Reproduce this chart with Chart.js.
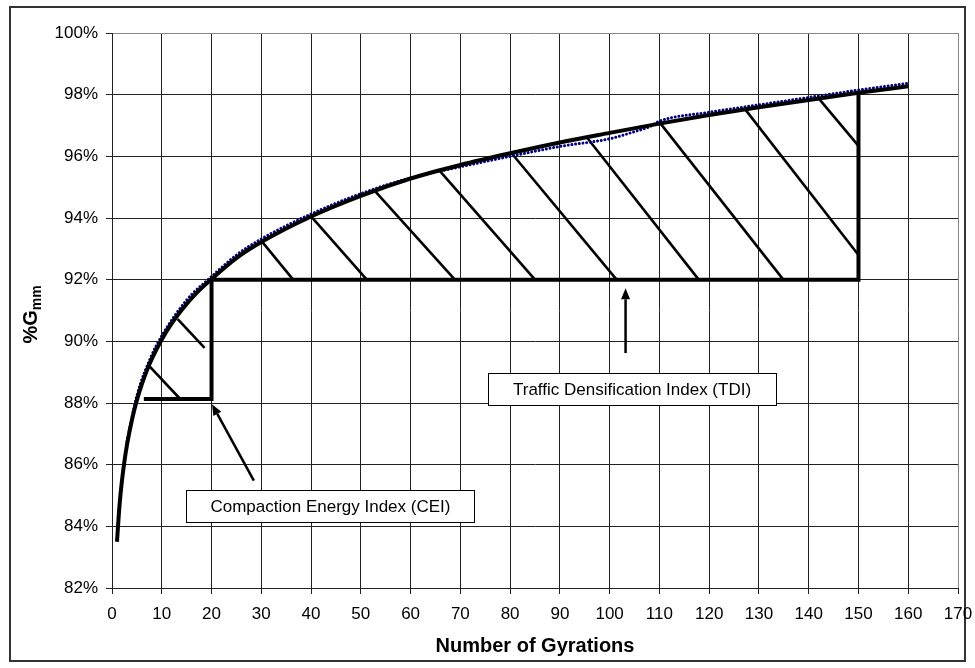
<!DOCTYPE html>
<html>
<head>
<meta charset="utf-8">
<script src="https://cdn.jsdelivr.net/npm/chart.js@4.4.1/dist/chart.umd.min.js"></script>
<style>
	body { margin: 0; background: #fff; }
</style>
</head>
<body>
<canvas id="c" width="975" height="668"></canvas>
<script>
// gyrations vs %Gmm, fitted curve
var fitN   = [1, 1.5, 2, 2.5, 3, 4, 5, 6, 7, 8, 10, 12, 14, 17, 20, 25, 30, 40, 50, 60, 70, 80, 90, 100, 110, 120, 130, 140, 150, 160];
var fitGmm = [83.5, 84.66, 85.48, 86.11, 86.63, 87.45, 88.09, 88.61, 89.05, 89.43, 90.06, 90.58, 91.02, 91.57, 92.02, 92.7, 93.22, 94.05, 94.72, 95.28, 95.72, 96.1, 96.45, 96.76, 97.06, 97.34, 97.59, 97.83, 98.06, 98.27];

// measured densification (dotted)
var measN   = [3, 5, 8, 10, 15, 20, 25, 30, 40, 50, 60, 70, 80, 90, 100, 105, 108, 110, 120, 130, 140, 150, 160];
var measGmm = [86.75, 88.24, 89.56, 90.18, 91.34, 92.1, 92.8, 93.32, 94.13, 94.79, 95.3, 95.66, 96.0, 96.32, 96.57, 96.8, 96.96, 97.14, 97.43, 97.67, 97.91, 98.15, 98.37];

// hatch strokes, [N, %Gmm] from -> to
var ceiHatchFrom = [[7.6, 89.18], [13.2, 90.72]];
var ceiHatchTo   = [[13.7, 88.13], [18.6, 89.79]];
var tdiHatchFrom = [[30.1, 93.24], [40, 94.05], [52.9, 94.86], [65.9, 95.52], [80.3, 96.1], [95.4, 96.62], [110.2, 97.07], [127.2, 97.53], [142, 97.88]];
var tdiHatchTo   = [[36.4, 92], [51.2, 92], [68.9, 92], [85.0, 92], [101.4, 92], [117.9, 92], [134.9, 92], [150, 92.8], [150, 96.34]];

// region outlines
var ceiFrame = [[6.4, 88.13], [20, 88.13], [20, 92]];
var tdiFrame = [[20, 92], [150, 92], [150, 98.06]];

// arrows, tail -> tip
var tdiArrow = [[103.2, 89.62], [103.2, 91.72]];
var ceiArrow = [[28.5, 85.48], [20.1, 87.96]];

// label boxes, centre in data units
var tdiLabel = { text: "Traffic Densification Index (TDI)", x: 104.5, y: 88.46 };
var ceiLabel = { text: "Compaction Energy Index (CEI)", x: 43.9, y: 84.65 };

var xTitle = "Number of Gyrations";
var yTitle = ["%G", "mm"];

var FONT = "'Liberation Sans', Arial, sans-serif";

function toPts(ns, vs) {
	var r = [];
	for(var i = 0; i < ns.length; i++) {
		r.push({ x: ns[i], y: vs[i] });
	}
	return r;
}

function pairPts(list) {
	return list.map(function(p) { return { x: p[0], y: p[1] }; });
}

function segSet(data, width) {
	return {
		data: data,
		showLine: true,
		borderColor: "#000",
		borderWidth: width,
		pointRadius: 0,
		borderCapStyle: "butt",
		borderJoinStyle: "miter",
		order: 3
	};
}

var datasets = [
	{
		data: toPts(fitN, fitGmm),
		showLine: true,
		borderColor: "#000",
		borderWidth: 4,
		pointRadius: 0,
		cubicInterpolationMode: "monotone",
		order: 1
	},
	{
		data: toPts(measN, measGmm),
		showLine: true,
		borderColor: "#000080",
		borderWidth: 3,
		borderDash: [0.01, 3.7],
		borderCapStyle: "round",
		pointRadius: 0,
		cubicInterpolationMode: "monotone",
		order: 2
	},
	segSet(pairPts(ceiFrame), 4),
	segSet(pairPts(tdiFrame), 4)
];

ceiHatchFrom.forEach(function(p, i) {
	datasets.push(segSet(pairPts([p, ceiHatchTo[i]]), 2.6));
});
tdiHatchFrom.forEach(function(p, i) {
	datasets.push(segSet(pairPts([p, tdiHatchTo[i]]), 2.6));
});

function drawArrow(ctx, xs, ys, a) {
	var x0 = xs.getPixelForValue(a[0][0]), y0 = ys.getPixelForValue(a[0][1]);
	var x1 = xs.getPixelForValue(a[1][0]), y1 = ys.getPixelForValue(a[1][1]);
	var ang = Math.atan2(y1 - y0, x1 - x0);
	var len = 11, half = 4.5;
	var bx = x1 - Math.cos(ang) * len, by = y1 - Math.sin(ang) * len;

	ctx.strokeStyle = "#000";
	ctx.lineWidth = 2.5;
	ctx.beginPath();
	ctx.moveTo(x0, y0);
	ctx.lineTo(bx, by);
	ctx.stroke();

	ctx.fillStyle = "#000";
	ctx.beginPath();
	ctx.moveTo(x1, y1);
	ctx.lineTo(bx + Math.sin(ang) * half, by - Math.cos(ang) * half);
	ctx.lineTo(bx - Math.sin(ang) * half, by + Math.cos(ang) * half);
	ctx.closePath();
	ctx.fill();
}

function drawLabel(ctx, xs, ys, lb) {
	var cx = xs.getPixelForValue(lb.x), cy = ys.getPixelForValue(lb.y);
	var w = 288, h = 32;
	var l = Math.round(cx - w / 2) + 0.5, t = Math.round(cy - h / 2) + 0.5;

	ctx.fillStyle = "#fff";
	ctx.fillRect(l, t, w, h);
	ctx.strokeStyle = "#000";
	ctx.lineWidth = 1;
	ctx.strokeRect(l, t, w, h);

	ctx.fillStyle = "#000";
	ctx.font = "17px " + FONT;
	ctx.textAlign = "center";
	ctx.textBaseline = "middle";
	ctx.fillText(lb.text, cx, cy + 1);
}

var deco = {
	id: "deco",
	beforeDraw: function(chart) {
		var ctx = chart.ctx;
		ctx.save();
		ctx.fillStyle = "#fff";
		ctx.fillRect(0, 0, chart.width, chart.height);
		ctx.strokeStyle = "#333";
		ctx.lineWidth = 2;
		ctx.strokeRect(10, 7, 955, 654);
		ctx.restore();
	},
	afterDatasetsDraw: function(chart) {
		var ctx = chart.ctx, xs = chart.scales.x, ys = chart.scales.y;
		ctx.save();
		drawArrow(ctx, xs, ys, tdiArrow);
		drawArrow(ctx, xs, ys, ceiArrow);
		drawLabel(ctx, xs, ys, tdiLabel);
		drawLabel(ctx, xs, ys, ceiLabel);
		ctx.restore();
	},
	afterDraw: function(chart) {
		var ctx = chart.ctx, a = chart.chartArea;
		ctx.save();
		ctx.fillStyle = "#000";

		// x title
		ctx.font = "bold 20px " + FONT;
		ctx.textAlign = "center";
		ctx.textBaseline = "alphabetic";
		ctx.fillText(xTitle, (a.left + a.right) / 2, 652);

		// y title with subscript
		ctx.translate(37, (a.top + a.bottom) / 2 + 4);
		ctx.rotate(-Math.PI / 2);
		ctx.textAlign = "left";
		ctx.font = "bold 20px " + FONT;
		var w1 = ctx.measureText(yTitle[0]).width;
		ctx.font = "bold 14px " + FONT;
		var w2 = ctx.measureText(yTitle[1]).width;
		var sx = -(w1 + w2) / 2;
		ctx.font = "bold 20px " + FONT;
		ctx.fillText(yTitle[0], sx, 0);
		ctx.font = "bold 14px " + FONT;
		ctx.fillText(yTitle[1], sx + w1, 4);
		ctx.restore();
	}
};

new Chart(document.getElementById("c"), {
	type: "scatter",
	data: { datasets: datasets },
	plugins: [deco],
	options: {
		responsive: false,
		animation: false,
		layout: { padding: { left: 10, top: 33, right: 17, bottom: 0 } },
		plugins: {
			legend: { display: false },
			tooltip: { enabled: false }
		},
		scales: {
			x: {
				type: "linear",
				min: 0,
				max: 170,
				afterFit: function(s) {
					s.height = 80;
					// edge labels fit inside the layout padding
					s.paddingLeft = 0;
					s.paddingRight = 0;
				},
				ticks: {
					stepSize: 10,
					padding: 10,
					color: "#000",
					maxRotation: 0,
					font: { family: FONT, size: 17 }
				},
				grid: {
					color: function(c) { return c.tick && c.tick.value === 170 ? "#888" : "#222"; },
					lineWidth: 1,
					tickLength: 6,
					tickColor: "#222"
				},
				border: { color: "#222", width: 1 }
			},
			y: {
				type: "linear",
				min: 82,
				max: 100,
				afterFit: function(s) { s.width = 102; },
				ticks: {
					stepSize: 2,
					padding: 8,
					color: "#000",
					font: { family: FONT, size: 17 },
					callback: function(v) { return v + "%"; }
				},
				grid: {
					color: function(c) { return c.tick && c.tick.value === 100 ? "#888" : "#222"; },
					lineWidth: 1,
					tickLength: 6,
					tickColor: "#222"
				},
				border: { color: "#222", width: 1 }
			}
		}
	}
});
</script>
</body>
</html>
